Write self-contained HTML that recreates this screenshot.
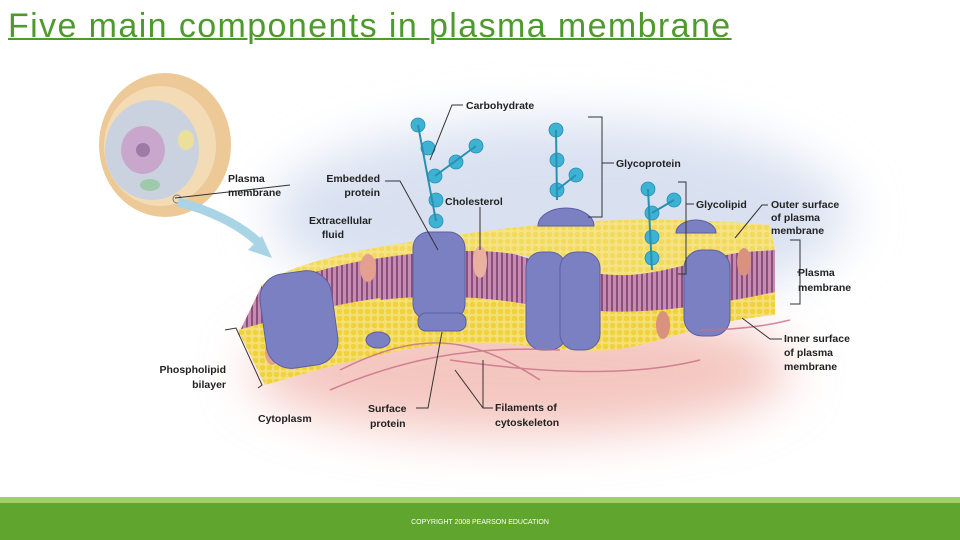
<!DOCTYPE html>
<html><head><meta charset="utf-8"><style>
html,body{margin:0;padding:0;background:#fff;}
body{width:960px;height:540px;position:relative;overflow:hidden;font-family:"Liberation Sans",sans-serif;}
.title{position:absolute;left:8px;top:7px;font-size:34px;color:#4f9a2f;text-decoration:underline;text-decoration-thickness:2px;letter-spacing:1.4px;white-space:nowrap;}
.foot1{position:absolute;left:0;top:497px;width:960px;height:6px;background:#9fcf6a;}
.foot2{position:absolute;left:0;top:503px;width:960px;height:37px;background:#5fa52e;}
.copy{position:absolute;left:0;width:960px;top:519px;text-align:center;font-size:7px;color:#fff;}
svg{position:absolute;left:0;top:0;}
svg text{font-family:"Liberation Sans",sans-serif;font-weight:bold;font-size:10.5px;fill:#222;}
</style></head><body>
<div class="title">Five main components in plasma membrane</div>
<svg width="960" height="540" viewBox="0 0 960 540">
<defs>
<filter id="b" x="-50%" y="-50%" width="200%" height="200%"><feGaussianBlur stdDeviation="25"/></filter>
<pattern id="dots" width="7" height="7" patternUnits="userSpaceOnUse"><rect width="7" height="7" fill="#f4e07a"/><circle cx="3.5" cy="3.5" r="2.8" fill="#f1d23a"/></pattern>
<pattern id="tails" width="5" height="10" patternUnits="userSpaceOnUse"><rect width="5" height="10" fill="#c78ab0"/><rect x="1" width="2" height="10" fill="#8a4f7a"/></pattern>
</defs>
<ellipse cx="560" cy="215" rx="290" ry="95" fill="#d9e1f1" filter="url(#b)"/>
<ellipse cx="520" cy="370" rx="270" ry="65" fill="#f4c6c0" filter="url(#b)"/>
<ellipse cx="165" cy="145" rx="66" ry="72" fill="#ecc996"/>
<ellipse cx="160" cy="146" rx="56" ry="60" fill="#f3dcb5"/>
<ellipse cx="152" cy="150" rx="47" ry="50" fill="#c9d2de"/>
<ellipse cx="143" cy="150" rx="22" ry="24" fill="#c9a6cc"/>
<circle cx="143" cy="150" r="7" fill="#a07aa6"/>
<ellipse cx="186" cy="140" rx="8" ry="10" fill="#ecdf9a"/>
<ellipse cx="150" cy="185" rx="10" ry="6" fill="#9fcaa9"/>
<circle cx="177" cy="199" r="4" fill="none" stroke="#777" stroke-width="1"/>
<path d="M178,202 C210,210 240,225 258,242" stroke="#a8d4e6" stroke-width="9" fill="none"/>
<polygon points="272,258 248,250 262,236" fill="#a8d4e6"/>
<path d="M238,330 C280,310 340,300 420,295 C480,292 520,300 560,318 C620,320 700,300 775,290 L775,315 C720,320 680,335 640,345 C600,355 560,350 520,345 C470,340 420,345 380,355 C330,365 300,375 265,385 Z" fill="url(#dots)"/>
<path d="M262,285 C300,262 380,250 450,240 C480,245 510,252 540,262 C580,272 640,278 700,255 L775,250 L775,300 C720,305 680,318 640,320 C600,322 560,315 530,305 C480,295 420,295 380,300 C320,308 280,325 238,335 Z" fill="url(#tails)"/>
<path d="M262,285 C300,258 380,246 450,236 C520,226 620,212 770,225 L775,250 C720,250 690,268 640,274 C600,279 560,266 530,257 C485,246 420,252 380,258 C330,265 295,278 262,290 Z" fill="url(#dots)"/>
<path d="M262,285 C300,258 380,246 450,236 C520,226 620,212 770,225 L775,250 C720,250 690,268 640,274 C600,279 560,266 530,257 C485,246 420,252 380,258 C330,265 295,278 262,290 Z" fill="#f6eaa0" opacity="0.35"/>
<path d="M238,330 C280,318 330,305 380,298 L385,310 C330,318 285,330 245,345 Z" fill="url(#dots)"/>
<path d="M530,300 C600,320 680,312 775,292 L775,305 C690,325 600,332 528,315 Z" fill="url(#dots)"/>
<ellipse cx="368" cy="268" rx="8" ry="14" fill="#e4a08e"/>
<ellipse cx="480" cy="262" rx="7" ry="16" fill="#eab0a0"/>
<ellipse cx="744" cy="262" rx="7" ry="14" fill="#d9927e"/>
<ellipse cx="272" cy="352" rx="7" ry="13" fill="#e4a08e"/>
<ellipse cx="663" cy="325" rx="7" ry="14" fill="#d9927e"/>
<g fill="#7b80c2" stroke="#5b5f9f" stroke-width="1">
<rect x="263" y="272" width="72" height="95" rx="25" transform="rotate(-8 299 320)"/>
<rect x="413" y="232" width="52" height="88" rx="16"/>
<rect x="418" y="313" width="48" height="18" rx="8"/>
<rect x="526" y="252" width="40" height="98" rx="16"/>
<rect x="560" y="252" width="40" height="98" rx="16"/>
<rect x="684" y="250" width="46" height="86" rx="18"/>
<path d="M538,226 A28,18 0 0 1 594,226 Z"/>
<path d="M676,233 A20,13 0 0 1 716,233 Z"/>
<ellipse cx="378" cy="340" rx="12" ry="8"/>
</g>
<g stroke="#c66f86" stroke-width="1.5" fill="none" opacity="0.8">
<path d="M330,390 C400,360 470,345 560,350"/>
<path d="M340,370 C420,330 470,335 540,380"/>
<path d="M450,360 C520,370 620,380 700,360"/>
<path d="M700,330 C740,330 770,325 790,320"/>
</g>
<g fill="#3eb2d3" stroke="#2890b3" stroke-width="0.8">
<circle cx="418" cy="125" r="7"/><circle cx="428" cy="148" r="7"/><circle cx="435" cy="176" r="7"/><circle cx="436" cy="200" r="7"/><circle cx="436" cy="221" r="7"/>
<circle cx="456" cy="162" r="7"/><circle cx="476" cy="146" r="7"/>
<circle cx="556" cy="130" r="7"/><circle cx="557" cy="160" r="7"/><circle cx="557" cy="190" r="7"/><circle cx="576" cy="175" r="7"/>
<circle cx="648" cy="189" r="7"/><circle cx="652" cy="213" r="7"/><circle cx="652" cy="237" r="7"/><circle cx="652" cy="258" r="7"/><circle cx="674" cy="200" r="7"/>
</g>
<g stroke="#2890b3" stroke-width="2" fill="none">
<path d="M418,125 L436,221 M435,176 L476,146"/>
<path d="M556,130 L557,200 M557,190 L576,175"/>
<path d="M648,189 L652,270 M652,213 L674,200"/>
</g>
<g stroke="#333" stroke-width="1" fill="none">
<path d="M463,105 L452,105 L430,160"/>
<path d="M588,117 L602,117 L602,217 L588,217"/>
<path d="M602,163 L614,163"/>
<path d="M678,182 L686,182 L686,274 L678,274"/>
<path d="M686,204 L694,204"/>
<path d="M290,185 L175,198"/>
<path d="M385,181 L400,181 L438,250"/>
<path d="M480,207 L480,250"/>
<path d="M768,205 L762,205 L735,238"/>
<path d="M790,240 L800,240 L800,304 L790,304"/>
<path d="M800,272 L797,272"/>
<path d="M782,339 L770,339 L742,318"/>
<path d="M225,330 L236,328 L262,385 L258,388"/>
<path d="M416,408 L428,408 L442,332"/>
<path d="M493,408 L483,408 L483,360"/>
<path d="M483,408 L455,370"/>
</g>
<text x="466" y="109">Carbohydrate</text>
<text x="616" y="167">Glycoprotein</text>
<text x="696" y="208">Glycolipid</text>
<text x="771" y="208">Outer surface</text>
<text x="771" y="221">of plasma</text>
<text x="771" y="234">membrane</text>
<text x="798" y="276">Plasma</text>
<text x="798" y="291">membrane</text>
<text x="784" y="342">Inner surface</text>
<text x="784" y="356">of plasma</text>
<text x="784" y="370">membrane</text>
<text x="228" y="182">Plasma</text>
<text x="228" y="196">membrane</text>
<text x="380" y="182" text-anchor="end">Embedded</text>
<text x="380" y="196" text-anchor="end">protein</text>
<text x="445" y="205">Cholesterol</text>
<text x="372" y="224" text-anchor="end">Extracellular</text>
<text x="344" y="238" text-anchor="end">fluid</text>
<text x="226" y="373" text-anchor="end">Phospholipid</text>
<text x="226" y="388" text-anchor="end">bilayer</text>
<text x="258" y="422">Cytoplasm</text>
<text x="368" y="412">Surface</text>
<text x="370" y="427">protein</text>
<text x="495" y="411">Filaments of</text>
<text x="495" y="426">cytoskeleton</text>
</svg>
<div class="foot1"></div><div class="foot2"></div>
<div class="copy">COPYRIGHT 2008 PEARSON EDUCATION</div>
</body></html>
